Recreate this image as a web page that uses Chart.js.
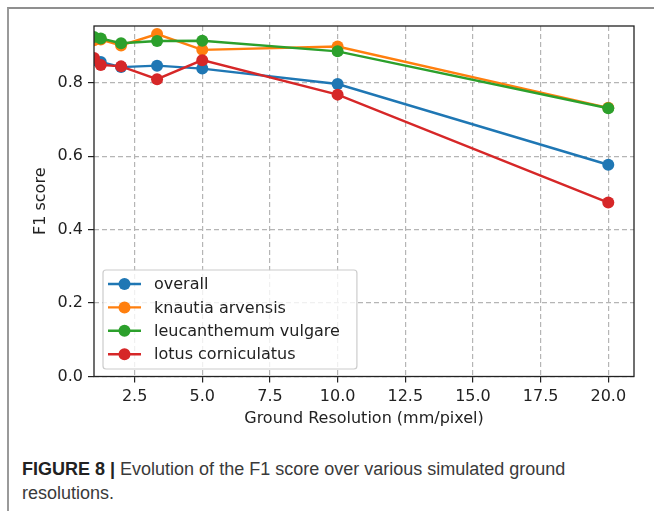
<!DOCTYPE html>
<html>
<head>
<meta charset="utf-8">
<script src="https://cdn.jsdelivr.net/npm/chart.js@4"></script>
<style>
  body { margin: 0; background: #fff; }
  #frame {
    position: absolute; left: 7px; top: 7px; width: 660px; height: 520px;
    border-top: 2px solid #8f8f8f; border-left: 2px solid #9a9a9a;
  }
  #chart { position: absolute; left: 0; top: 0; }
  #caption {
    position: absolute; left: 22px; top: 457px; width: 600px;
    font-family: "Liberation Sans", Arial, sans-serif; font-size: 18px;
    line-height: 24px; color: #3a3a3a;
  }
  #caption b { color: #222; }
</style>
</head>
<body>
<div id="frame"></div>
<canvas id="chart" width="654" height="430"></canvas>
<div id="caption"><b>FIGURE 8 |</b> Evolution of the F1 score over various simulated ground resolutions.</div>
<script>
// data
const resolutions = [1, 1.25, 2, 3.33, 5, 10, 20];
const overall = [0.862, 0.857, 0.843, 0.847, 0.839, 0.797, 0.577];
const knautia = [0.916, 0.918, 0.902, 0.933, 0.890, 0.899, 0.732];
const leucanthemum = [0.925, 0.921, 0.908, 0.914, 0.915, 0.886, 0.731];
const lotus = [0.868, 0.849, 0.845, 0.810, 0.862, 0.768, 0.474];

const seriesNames = ['overall', 'knautia arvensis', 'leucanthemum vulgare', 'lotus corniculatus'];
const seriesColors = ['#1f77b4', '#ff7f0e', '#2ca02c', '#d62728'];
const xTicks = [2.5, 5.0, 7.5, 10.0, 12.5, 15.0, 17.5, 20.0];
const yTicks = [0.0, 0.2, 0.4, 0.6, 0.8];

const FONT = 'DejaVu Sans';

function makeDataset(values, i) {
  return {
    label: seriesNames[i],
    data: values.map((v, k) => ({ x: resolutions[k], y: v })),
    borderColor: seriesColors[i],
    backgroundColor: seriesColors[i],
    borderWidth: 2.4,
    pointRadius: 6,
    pointBorderWidth: 0,
    pointHoverRadius: 6,
    tension: 0,
    clip: 0,
    order: 4 - i
  };
}

// spines + legend inside the axes, matplotlib style
const axesBox = {
  id: 'axesBox',
  afterDraw(chart) {
    const ctx = chart.ctx;
    const a = chart.chartArea;
    ctx.save();
    ctx.strokeStyle = '#222';
    ctx.lineWidth = 1.3;
    ctx.strokeRect(a.left, a.top, a.right - a.left, a.bottom - a.top);

    // legend
    ctx.font = '16px "' + FONT + '"';
    const names = chart.data.datasets.map(d => d.label);
    const maxW = Math.max(...names.map(n => ctx.measureText(n).width));
    const left = a.left + 9;
    const bottom = a.bottom - 7.5;
    const rowH = 23.4;
    const top = bottom - 99;
    const width = 60 + maxW + 8;
    ctx.beginPath();
    ctx.roundRect(left, top, width, bottom - top, 3);
    ctx.fillStyle = 'rgba(255,255,255,0.8)';
    ctx.fill();
    ctx.strokeStyle = '#cccccc';
    ctx.lineWidth = 1.2;
    ctx.stroke();
    chart.data.datasets.forEach((d, i) => {
      const y = top + 14 + i * rowH;
      ctx.strokeStyle = d.borderColor;
      ctx.lineWidth = 2.4;
      ctx.beginPath();
      ctx.moveTo(left + 5, y);
      ctx.lineTo(left + 38, y);
      ctx.stroke();
      ctx.fillStyle = d.borderColor;
      ctx.beginPath();
      ctx.arc(left + 21.5, y, 6, 0, Math.PI * 2);
      ctx.fill();
      ctx.fillStyle = '#222';
      ctx.textBaseline = 'middle';
      ctx.fillText(d.label, left + 51, y + 1);
    });
    ctx.restore();
  }
};

new Chart(document.getElementById('chart'), {
  type: 'line',
  data: {
    datasets: [overall, knautia, leucanthemum, lotus].map(makeDataset)
  },
  options: {
    responsive: false,
    animation: false,
    layout: { padding: { top: 26, right: 20, left: 0, bottom: 0 } },
    plugins: { legend: { display: false }, tooltip: { enabled: false } },
    scales: {
      x: {
        type: 'linear',
        min: 1,
        max: 20.95,
        afterBuildTicks: s => { s.ticks = xTicks.map(v => ({ value: v })); },
        afterFit: s => { s.height = 53.5; },
        ticks: {
          callback: v => v.toFixed(1),
          font: { family: FONT, size: 16 },
          color: '#222',
          padding: 5,
          maxRotation: 0
        },
        grid: {
          color: '#b5b5b5', lineWidth: 1.2,
          tickColor: '#222', tickLength: 6, tickWidth: 1.2
        },
        border: { display: false, dash: [5, 3] },
        title: {
          display: true, text: 'Ground Resolution (mm/pixel)',
          font: { family: FONT, size: 16 }, color: '#222',
          padding: { top: 2, bottom: 2 }
        }
      },
      y: {
        min: 0,
        max: 0.955,
        afterBuildTicks: s => { s.ticks = yTicks.map(v => ({ value: v })); },
        afterFit: s => { s.width = 94; },
        ticks: {
          callback: v => v.toFixed(1),
          font: { family: FONT, size: 16 },
          color: '#222',
          padding: 5
        },
        grid: {
          color: '#b5b5b5', lineWidth: 1.2,
          tickColor: '#222', tickLength: 6, tickWidth: 1.2
        },
        border: { display: false, dash: [5, 3] },
        title: {
          display: true, text: 'F1 score',
          font: { family: FONT, size: 16 }, color: '#222',
          padding: { top: 31, bottom: 31 }
        }
      }
    }
  },
  plugins: [axesBox]
});
</script>
</body>
</html>
